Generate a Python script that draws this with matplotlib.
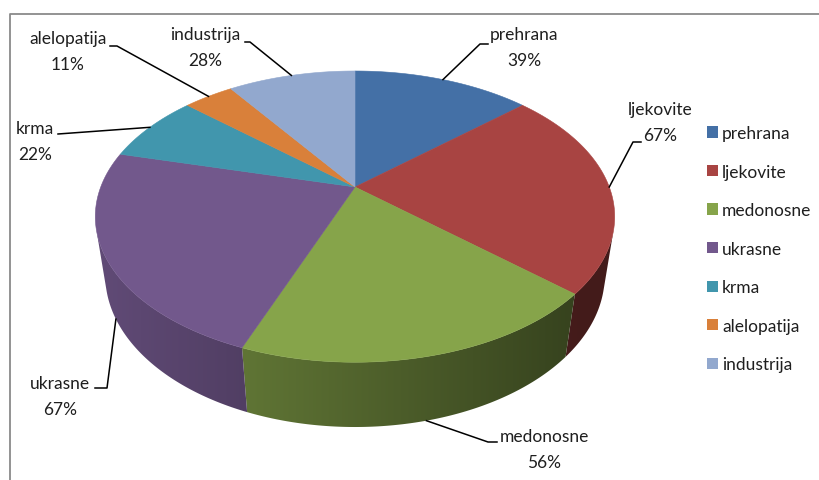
import numpy as np
import matplotlib.pyplot as plt
from matplotlib.patches import Patch, Polygon
from matplotlib.colors import to_rgb

plt.rcParams['font.family'] = ['Lato', 'DejaVu Sans']

# podaci
CATEGORIES = ["prehrana", "ljekovite", "medonosne", "ukrasne", "krma", "alelopatija", "industrija"]
VALUES = [39, 67, 56, 67, 22, 11, 28]
PCT_LABELS = ["39%", "67%", "56%", "67%", "22%", "11%", "28%"]

TOP_COLORS = ["#4470A6", "#A84442", "#86A44A", "#72588C", "#4196AD", "#D9803A", "#92A8CE"]

# 3D pie projection (pixel space)
CX, CY = 355, 188
F = 1045.0
D = 4.11
ELEV = np.deg2rad(33.3)
S, C = np.sin(ELEV), np.cos(ELEV)
H = 0.286

# label layout: name-line centre, leader elbow, leader end, anchor height (0 top, 1 bottom)
LAYOUT = {
    "prehrana":    dict(text=(524, 35), elbow=(480, 45), end=(488, 45), h=0.0),
    "ljekovite":   dict(text=(660, 110), elbow=(633, 143), end=(641, 143), h=0.0),
    "medonosne":   dict(text=(544, 437), elbow=(488, 443), end=(497, 443), h=1.0),
    "ukrasne":     dict(text=(60, 384), elbow=(107, 389), end=(95, 389), h=1.0),
    "krma":        dict(text=(35, 129), elbow=(58, 135), end=(58, 135), h=0.0),
    "alelopatija": dict(text=(68, 39), elbow=(117, 47), end=(110, 47), h=0.0),
    "industrija":  dict(text=(205, 35), elbow=(250, 43), end=(245, 43), h=0.0),
}


def proj(theta, r, w):
    """theta clockwise from 12 o'clock, r radius, w height (<=0)."""
    u = r * np.sin(theta)
    v = r * np.cos(theta)
    Y = v * S + w * C
    Z = D + v * C - w * S
    return CX + F * u / Z, CY - F * Y / Z


def shade_factor(x):
    return np.clip(0.85 - 0.000925 * (x - 95), 0.40, 0.9)


fig = plt.figure(figsize=(8.2, 4.81), dpi=100)
ax = fig.add_axes([0, 0, 1, 1])
ax.set_xlim(0, 820)
ax.set_ylim(481, 0)
ax.axis("off")

# okvir
ax.plot([10, 10, 820], [481, 15, 15], color="#8a8a8a", lw=1.3, solid_capstyle="butt")

vals = np.array(VALUES, dtype=float)
edges = np.concatenate([[0], np.cumsum(vals)]) / vals.sum() * 2 * np.pi
vis_lim = -1.0 / (D * C)  # rim visible where cos(theta) < vis_lim

# bočne stranice (gradijent lijevo -> desno)
for i, col in enumerate(TOP_COLORS):
    th = np.linspace(edges[i], edges[i + 1], 400)
    th = th[np.cos(th) < vis_lim]
    if len(th) < 2:
        continue
    xt, yt = proj(th, 1, 0)
    xb, yb = proj(th, 1, -H)
    poly = Polygon(np.c_[np.r_[xt, xb[::-1]], np.r_[yt, yb[::-1]]], closed=True,
                   facecolor="none", edgecolor="none")
    ax.add_patch(poly)
    x0, x1 = min(xt.min(), xb.min()) - 2, max(xt.max(), xb.max()) + 2
    y0, y1 = min(yt.min(), yb.min()) - 2, max(yt.max(), yb.max()) + 2
    gx = np.linspace(x0, x1, 200)
    img = np.array(to_rgb(col))[None, None, :] * shade_factor(gx)[None, :, None]
    im = ax.imshow(img, extent=(x0, x1, y1, y0), aspect="auto", interpolation="bilinear")
    im.set_clip_path(poly)

ax.set_xlim(0, 820)
ax.set_ylim(481, 0)

# gornje plohe
for i, col in enumerate(TOP_COLORS):
    th = np.linspace(edges[i], edges[i + 1], 120)
    xs, ys = proj(th, 1, 0)
    ax.fill(np.r_[CX, xs], np.r_[CY, ys], color=col, lw=0.4, ec=col, zorder=3)

# oznake s linijama
mids = (edges[:-1] + edges[1:]) / 2
for cat, pct, mid in zip(CATEGORIES, PCT_LABELS, mids):
    lay = LAYOUT[cat]
    axp, ayp = proj(mid, 1, -H * lay["h"])
    ax.plot([axp, lay["elbow"][0], lay["end"][0]],
            [ayp, lay["elbow"][1], lay["end"][1]], color="black", lw=1.1, zorder=4)
    tx, ty = lay["text"]
    ax.text(tx, ty, cat, ha="center", va="center", fontsize=12.5, color="#1f1f1f")
    ax.text(tx, ty + 26, pct, ha="center", va="center", fontsize=12.5, color="#1f1f1f")

handles = [Patch(facecolor=c, edgecolor="none") for c in TOP_COLORS]
ax.legend(handles, CATEGORIES, loc="upper left", bbox_to_anchor=(707, 126),
          bbox_transform=ax.transData, frameon=False, fontsize=12.5,
          handlelength=0.62, handleheight=0.62, handletextpad=0.25,
          labelspacing=1.3, borderpad=0, borderaxespad=0, labelcolor="#1f1f1f")

fig.savefig("out.png", dpi=100)
